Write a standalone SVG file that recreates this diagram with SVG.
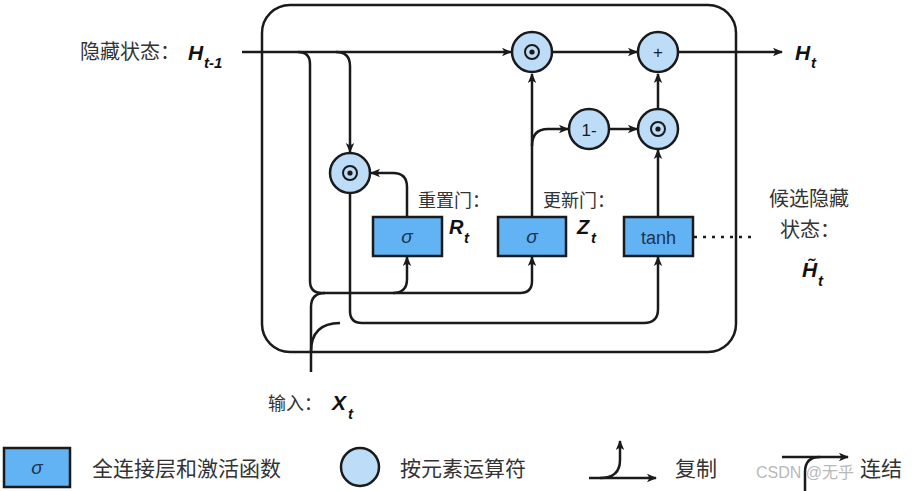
<svg xmlns="http://www.w3.org/2000/svg" width="922" height="491" viewBox="0 0 922 491">
<style>
.ln{fill:none;stroke:#1a1a1a;stroke-width:2.5}
.ar{marker-end:url(#ah)}
.box{fill:#62b3f3;stroke:#1a1a1a;stroke-width:2.5}
.op{fill:#bddcf8;stroke:#1a1a1a;stroke-width:2.5}
.cn{font-family:"Noto Sans CJK SC","Noto Sans",sans-serif;fill:#333}
.m{font-family:"Liberation Sans",Arial,sans-serif;font-weight:bold;font-style:italic;fill:#111}
.bt{font-family:"Liberation Sans",Arial,sans-serif;fill:#1c3550;text-anchor:middle}
.sym{font-family:"Liberation Sans",Arial,sans-serif;fill:#1a1a1a;text-anchor:middle}
</style>
<defs>
<marker id="ah" viewBox="0 0 10 10" refX="9" refY="5" markerWidth="10" markerHeight="10" markerUnits="userSpaceOnUse" orient="auto">
<path d="M0,0.8 L10,5 L0,9.2 L2.5,5 Z" fill="#1a1a1a"/>
</marker>
<g id="dotop"><circle r="7" fill="none" stroke="#1a1a1a" stroke-width="2"/><circle r="2.6" fill="#1a1a1a"/></g>
</defs>
<rect width="922" height="491" fill="#fff"/>
<g id="cell"><rect x="262" y="5" width="474" height="347" rx="28" class="ln"/></g>
<g id="connectors">
<path class="ln ar" d="M242,52 H511"/>
<path class="ln ar" d="M552,52 H637"/>
<path class="ln ar" d="M678,52 H782"/>
<path class="ln ar" d="M532,217 V74"/>
<path class="ln ar" d="M532,146 Q532,129 548,129 H568"/>
<path class="ln ar" d="M609,129 H637"/>
<path class="ln ar" d="M658,109 V74"/>
<path class="ln ar" d="M658,217 V150"/>
<path class="ln ar" d="M298,52 Q310,52 310,64 V281 Q310,293 322,293 H520 Q532,293 532,281 V257"/>
<path class="ln ar" d="M393,293 Q407,293 407,279 V257"/>
<path class="ln ar" d="M336,52 Q350,52 350,66 V152"/>
<path class="ln ar" d="M407,217 V187 Q407,173 393,173 H371"/>
<path class="ln ar" d="M350,193 V311 Q350,323 362,323 H644 Q658,323 658,309 V257"/>
<path class="ln" d="M311,372 V307 Q311,293 325,293"/>
<path class="ln" d="M311,352 Q311,323 340,323"/>
<path class="ln" d="M694,237 H756" stroke-dasharray="3 6"/>
</g>
<g id="reset_mul"><circle cx="350" cy="173" r="20" class="op"/><use href="#dotop" x="350" y="173"/></g>
<g id="top_mul"><circle cx="532" cy="52" r="20" class="op"/><use href="#dotop" x="532" y="52"/></g>
<g id="plus"><circle cx="658" cy="52" r="20" class="op"/><text x="658" y="58" class="sym" font-size="17">+</text></g>
<g id="one_minus"><circle cx="589" cy="129" r="20" class="op"/><text x="589" y="135.5" class="sym" font-size="17">1-</text></g>
<g id="low_mul"><circle cx="658" cy="129" r="20" class="op"/><use href="#dotop" x="658" y="129"/></g>
<g id="reset_gate"><rect x="373" y="217" width="69" height="39" class="box"/><text x="407" y="243" class="bt" font-size="19" font-style="italic">σ</text></g>
<g id="update_gate"><rect x="498" y="217" width="68" height="39" class="box"/><text x="532" y="243" class="bt" font-size="19" font-style="italic">σ</text></g>
<g id="tanh"><rect x="624" y="217" width="69" height="39" class="box"/><text x="658.5" y="244" class="bt" font-size="18">tanh</text></g>
<g id="labels">
<text x="80" y="59" class="cn" font-size="20">隐藏状态：</text>
<text x="188" y="60" class="m" font-size="21">H</text><text x="204" y="68" class="m" font-size="15">t-1</text>
<text x="795" y="60" class="m" font-size="21">H</text><text x="811" y="68" class="m" font-size="15">t</text>
<text x="418" y="207" class="cn" font-size="18">重置门：</text>
<text x="449" y="234" class="m" font-size="20">R</text><text x="464" y="243" class="m" font-size="15">t</text>
<text x="543" y="207" class="cn" font-size="18">更新门：</text>
<text x="577" y="234" class="m" font-size="20">Z</text><text x="591" y="243" class="m" font-size="15">t</text>
<text x="769" y="206" class="cn" font-size="20">候选隐藏</text>
<text x="780" y="237" class="cn" font-size="20">状态：</text>
<text x="802" y="277" class="m" font-size="21">H&#x303;</text><text x="818" y="286" class="m" font-size="15">t</text>
<text x="268" y="410" class="cn" font-size="18">输入：</text>
<text x="332" y="410" class="m" font-size="21">X</text><text x="348" y="419" class="m" font-size="15">t</text>
</g>
<g id="legend">
<rect x="4" y="448" width="66" height="39" class="box"/><text x="37" y="474" class="bt" font-size="19" font-style="italic">σ</text>
<text x="92" y="476" class="cn" font-size="21">全连接层和激活函数</text>
<circle cx="360" cy="467" r="19" class="op"/>
<text x="400" y="476" class="cn" font-size="21">按元素运算符</text>
<path class="ln ar" d="M589,478 H656"/>
<path class="ln ar" d="M600,478 Q620,478 620,460 V441"/>
<text x="675" y="476" class="cn" font-size="21">复制</text>
<path class="ln ar" d="M782,457 H848"/>
<path class="ln" d="M805,491 V472 Q805,457 820,457"/>
<text x="756" y="478" font-family="Liberation Sans,Arial,'Noto Sans CJK SC',sans-serif" font-size="16" fill="#b8b8b8">CSDN @无乎</text>
<text x="860" y="476" class="cn" font-size="21">连结</text>
</g>
</svg>
